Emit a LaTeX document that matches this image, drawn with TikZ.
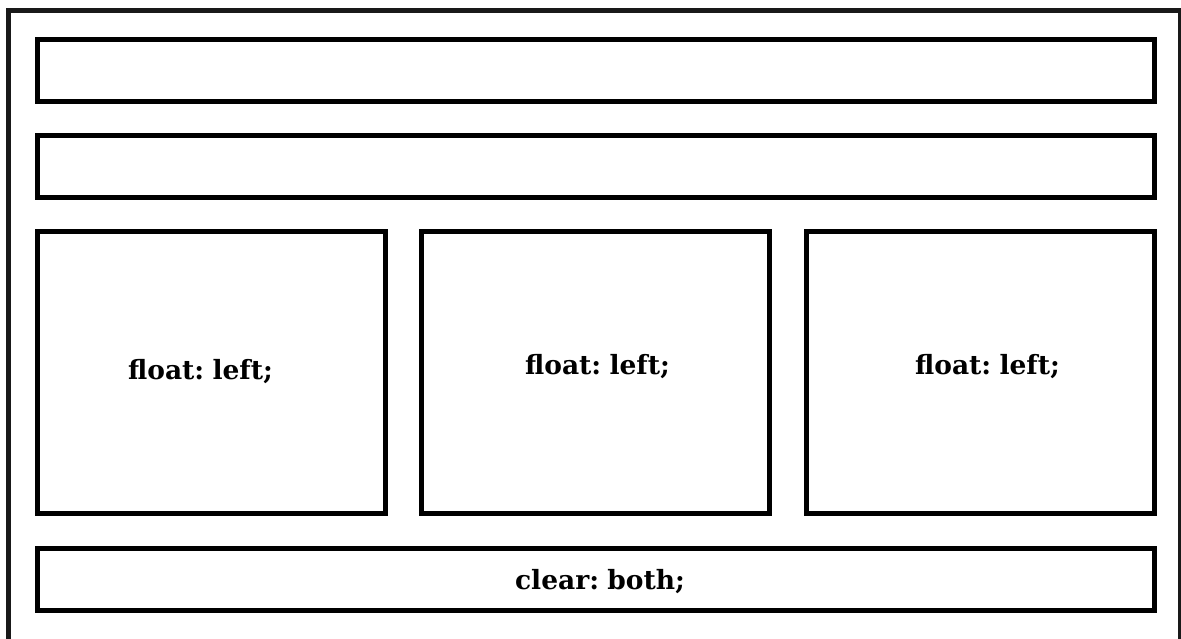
\documentclass[tikz,border=0pt]{standalone}
\usepackage{fontspec}
\setmainfont{DejaVu Serif}
\begin{document}
\begin{tikzpicture}[x=1pt,y=-1pt,
  blockbox/.style={draw=black,line width=5pt},
  label/.style={font=\bfseries\fontsize{26.5}{29}\selectfont,inner sep=0pt}]
\useasboundingbox (0,0) rectangle (1181,639);
\begin{scope}
\clip (0,0) rectangle (1181,639);
% page frame, running past the right and bottom edges
\draw[line width=4.5pt,black!90] (8.5,10.5) rectangle (1180.5,660);
\end{scope}
% header rows
\draw[blockbox] (37.5,39.5) rectangle (1154.5,102);
\draw[blockbox] (37.5,135.8) rectangle (1154.5,197.5);
% three floated columns
\draw[blockbox] (37.5,231.5) rectangle (385,513);
\draw[blockbox] (421.5,231.5) rectangle (769.5,513);
\draw[blockbox] (806.5,231.5) rectangle (1154.5,513);
\node[label] (c1) at (200.5,372) {float:\hspace{-0.15em} left;};
\node[label] (c2) at (597.5,367) {float:\hspace{-0.15em} left;};
\node[label] (c3) at (987.5,367) {float:\hspace{-0.15em} left;};
% clearing footer
\draw[blockbox] (37.5,548.5) rectangle (1154.5,610.5);
\node[label] (f) at (600,582) {clear:\hspace{-0.15em} both;};
\end{tikzpicture}
\end{document}
